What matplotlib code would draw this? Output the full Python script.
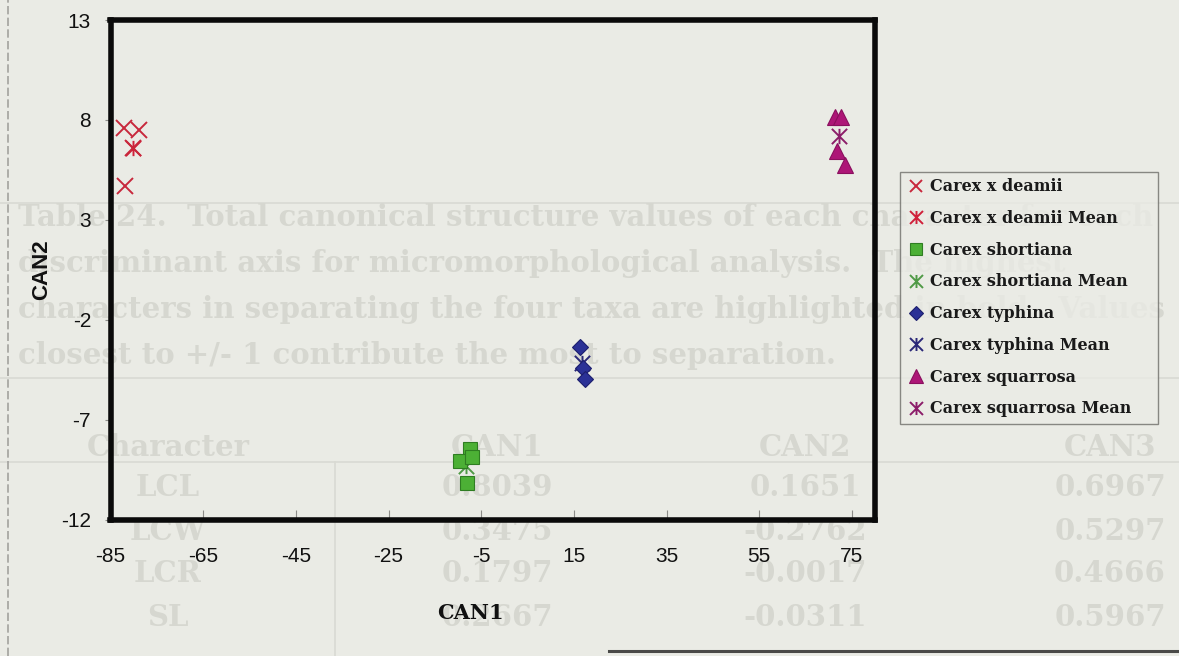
import matplotlib
matplotlib.use("Agg")
import matplotlib.pyplot as plt
from matplotlib.path import Path
from matplotlib.lines import Line2D

# ---------------------------------------------------------------- data
deamii_x = [-82.0, -78.9, -80.1, -81.9]
deamii_y = [7.6, 7.5, 6.6, 4.7]
deamii_mean_x = [-80.1]
deamii_mean_y = [6.6]

shortiana_x = [-7.4, -9.6, -7.0, -8.1]
shortiana_y = [-8.47, -9.07, -8.87, -10.17]
shortiana_mean_x = [-8.3]
shortiana_mean_y = [-9.3]

typhina_x = [16.3, 17.0, 17.4]
typhina_y = [-3.37, -4.42, -4.97]
typhina_mean_x = [16.7]
typhina_mean_y = [-4.17]

squarrosa_x = [71.35, 72.6, 71.8, 73.5]
squarrosa_y = [8.15, 8.15, 6.44, 5.74]
squarrosa_mean_x = [72.2]
squarrosa_mean_y = [7.19]

series_labels = ["Carex x deamii", "Carex x deamii Mean",
                 "Carex shortiana", "Carex shortiana Mean",
                 "Carex typhina", "Carex typhina Mean",
                 "Carex squarrosa", "Carex squarrosa Mean"]

x_ticks = [-85, -65, -45, -25, -5, 15, 35, 55, 75]
y_ticks = [-12, -7, -2, 3, 8, 13]
x_limits = (-85, 80)
y_limits = (-12, 13)

# faint text of the page underneath the chart
page_caption = [
    "Table 24.  Total canonical structure values of each character for each",
    "discriminant axis for micromorphological analysis.  The highest",
    "characters in separating the four taxa are highlighted in bold.  Values",
    "closest to +/- 1 contribute the most to separation.",
]
page_header = ["Character", "CAN1", "CAN2", "CAN3"]
page_rows = [
    ["LCL", "0.8039", "0.1651", "0.6967"],
    ["LCW", "0.3475", "-0.2762", "0.5297"],
    ["LCR", "0.1797", "-0.0017", "0.4666"],
    ["SL", "0.2667", "-0.0311", "0.5967"],
]

# ---------------------------------------------------------------- styling
W, H = 1179, 656
BG = "#eaebe5"
GHOST = "#d6d7d0"
GHOST_RULE = "#d9dad3"


def fx(px):
    return px / W


def fy(py):
    return 1 - py / H


star = Path([(-1, -1), (1, 1), (-1, 1), (1, -1), (0, -1), (0, 1)],
            [Path.MOVETO, Path.LINETO] * 3)

fig = plt.figure(figsize=(W / 100, H / 100), dpi=100, facecolor=BG)

ghost_font = dict(family="DejaVu Serif", weight="bold", size=21,
                  color=GHOST, zorder=-3)
for i, line in enumerate(page_caption):
    fig.text(fx(18), fy(218 + i * 46), line, ha="left", va="center", **ghost_font)
col_x = [168, 497, 805, 1110]
for cx, h in zip(col_x, page_header):
    fig.text(fx(cx), fy(447), h, ha="center", va="center", **ghost_font)
for r, row in enumerate(page_rows):
    for cx, v in zip(col_x, row):
        fig.text(fx(cx), fy(488 + r * 43), v, ha="center", va="center", **ghost_font)
for yy in (203, 378, 462):
    fig.add_artist(Line2D([0, 1], [fy(yy)] * 2, transform=fig.transFigure,
                          color=GHOST_RULE, lw=1.2, zorder=-3))
fig.add_artist(Line2D([fx(335)] * 2, [fy(462), 0], transform=fig.transFigure,
                      color=GHOST_RULE, lw=1.2, zorder=-3))
fig.add_artist(Line2D([fx(8)] * 2, [0, 1], transform=fig.transFigure,
                      color="#a2a29e", lw=1.2, ls=(0, (5, 2)), zorder=-2))
fig.add_artist(Line2D([fx(609), 1], [fy(651)] * 2, transform=fig.transFigure,
                      color="#4a4a48", lw=2.2, zorder=-2))

# ---------------------------------------------------------------- axes
ax = fig.add_axes([fx(110.5), fy(519.5), 764.5 / W, 499.5 / H])
ax.set_facecolor("none")
ax.set_xlim(*x_limits)
ax.set_ylim(*y_limits)
for s in ax.spines.values():
    s.set_linewidth(4)
    s.set_color("#0a0a0a")

ax.set_xticks(x_ticks)
ax.set_yticks(y_ticks)
ax.set_xticklabels([str(t) for t in x_ticks], family="Liberation Sans")
ax.set_yticklabels([str(t) for t in y_ticks], family="Liberation Sans")
ax.tick_params(axis="x", direction="in", length=7, width=0.8,
               color="#8c8c88", pad=20, labelsize=15, labelcolor="#111111")
ax.tick_params(axis="y", direction="out", length=4.5, width=0.8,
               color="#8c8c88", pad=9.5, labelsize=15, labelcolor="#111111")

styles = [
    dict(marker="x", ms=11, mew=1.4, color="#c8283c", mfc="none", ls="none"),
    dict(marker=star, ms=11, mew=1.4, color="#d0203a", mfc="none", ls="none"),
    dict(marker="s", ms=10.5, mew=0.8, color="#4cb035", mec="#2f7d22", ls="none"),
    dict(marker=star, ms=11, mew=1.4, color="#4f9a46", mfc="none", ls="none"),
    dict(marker="D", ms=8, mew=0.8, color="#2b3196", mec="#1d1f6e", ls="none"),
    dict(marker=star, ms=11, mew=1.4, color="#2a2878", mfc="none", ls="none"),
    dict(marker="^", ms=12, mew=0.8, color="#ad1677", mec="#8a0f5e", ls="none"),
    dict(marker=star, ms=11, mew=1.4, color="#8c1d6a", mfc="none", ls="none"),
]
data = [(deamii_x, deamii_y), (deamii_mean_x, deamii_mean_y),
        (shortiana_x, shortiana_y), (shortiana_mean_x, shortiana_mean_y),
        (typhina_x, typhina_y), (typhina_mean_x, typhina_mean_y),
        (squarrosa_x, squarrosa_y), (squarrosa_mean_x, squarrosa_mean_y)]
for i, ((xs, ys), st) in enumerate(zip(data, styles)):
    ax.plot(xs, ys, zorder=2 if i % 2 else 3, **st)

fig.text(fx(470), fy(613), "CAN1", ha="center", va="center",
         family="DejaVu Serif", weight="bold", size=15, color="#111111")
fig.text(fx(42), fy(270), "CAN2", ha="center", va="center", rotation=90,
         family="Liberation Sans", weight="bold", size=16, color="#111111")

# ---------------------------------------------------------------- legend
handles = []
for st in styles:
    h = dict(st)
    h["ms"] = h["ms"] * 0.85
    handles.append(Line2D([], [], **h))
leg = fig.legend(handles, series_labels, loc="upper left",
                 bbox_to_anchor=(fx(900), fy(408), 258 / W, 236 / H),
                 bbox_transform=fig.transFigure, mode="expand",
                 prop=dict(family="DejaVu Serif", weight="bold", size=11.5),
                 frameon=True, fancybox=False, edgecolor="#6e6e6a",
                 facecolor=BG, framealpha=0.8, borderpad=0.4,
                 labelspacing=0.92, handlelength=1.2, handletextpad=0.3,
                 borderaxespad=0)
leg.get_frame().set_linewidth(1.0)
for t in leg.get_texts():
    t.set_color("#1a1a1a")

fig.savefig("out.png", dpi=100, facecolor=BG)
